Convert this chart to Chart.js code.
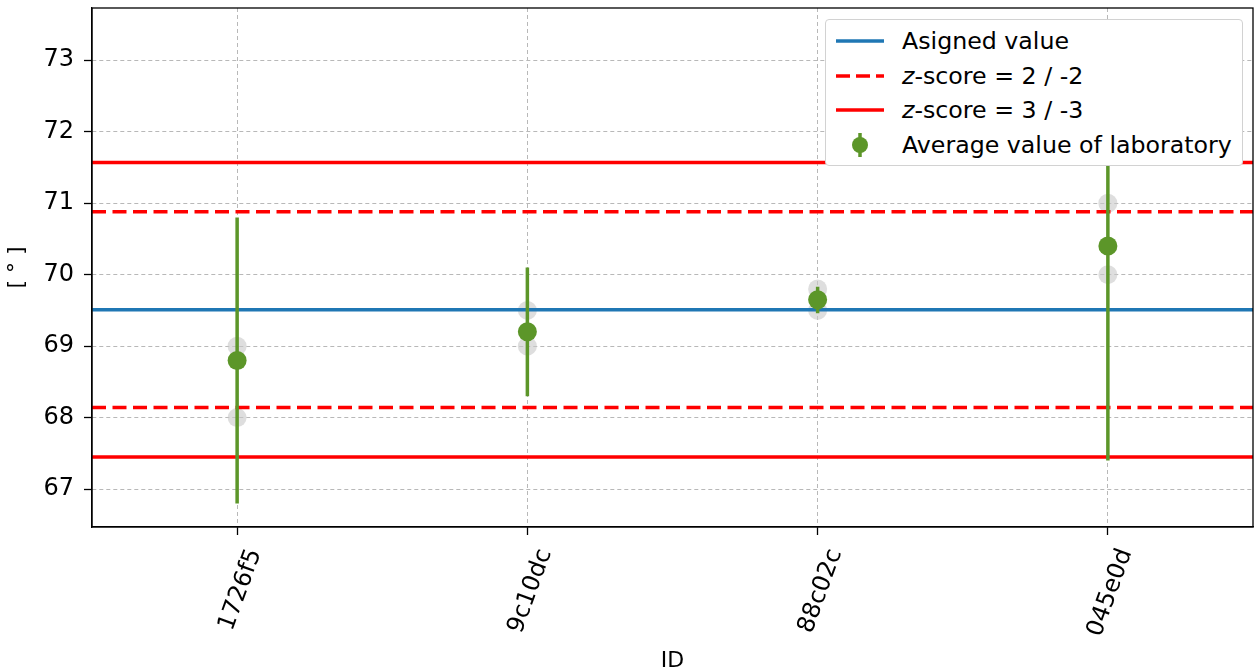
<!DOCTYPE html>
<html>
<head>
<meta charset="utf-8">
<script src="https://cdn.jsdelivr.net/npm/chart.js@4.4.0/dist/chart.umd.min.js"></script>
<style>
  html, body { margin: 0; padding: 0; background: #fff; }
  #wrap { position: relative; width: 1255px; height: 672px; font-family: "DejaVu Sans", sans-serif; }
  #legend { position: absolute; left: 825px; top: 19px; width: 418px; height: 147px; box-sizing: border-box;
            border: 1px solid #d2d2d2; border-radius: 4px; background: #fff; }
  .row { position: absolute; left: 0; width: 100%; height: 30px; font-size: 23.7px; color: #000; }
  .row svg { position: absolute; left: 9px; top: 0; }
  .row span { position: absolute; left: 76px; top: 0px; line-height: 30px; white-space: nowrap; }
</style>
</head>
<body>
<div id="wrap">
  <canvas id="chart" width="1255" height="672"></canvas>
  <div id="legend">
    <div class="row" style="top:6px">
      <svg width="50" height="30"><line x1="1" y1="15" x2="49" y2="15" stroke="#1f77b4" stroke-width="3.5"/></svg>
      <span>Asigned value</span>
    </div>
    <div class="row" style="top:41px">
      <svg width="50" height="30"><line x1="1" y1="15" x2="49" y2="15" stroke="#ff0000" stroke-width="3.5" stroke-dasharray="14,6"/></svg>
      <span><i>z</i>-score = 2 / -2</span>
    </div>
    <div class="row" style="top:75px">
      <svg width="50" height="30"><line x1="1" y1="15" x2="49" y2="15" stroke="#ff0000" stroke-width="3.5"/></svg>
      <span><i>z</i>-score = 3 / -3</span>
    </div>
    <div class="row" style="top:110px">
      <svg width="50" height="30"><line x1="25" y1="3" x2="25" y2="27" stroke="#5c9629" stroke-width="3.5"/><circle cx="25" cy="15" r="8" fill="#5c9629"/></svg>
      <span>Average value of laboratory</span>
    </div>
  </div>
</div>
<script>
// laboratories
const ids = ['1726f5', '9c10dc', '88c02c', '045e0d'];
// lab averages and error bar ends
const meanValues = [68.8, 69.2, 69.65, 70.4];
const errLow = [66.8, 68.3, 69.46, 67.4];
const errHigh = [70.8, 70.1, 69.83, 73.4];
// single measurements (grey dots)
const repA = [69.0, 69.5, 69.8, 71.0];
const repB = [68.0, 69.0, 69.5, 70.0];
// reference lines
const assignedValue = 69.51;
const z2Limits = [70.88, 68.14];
const z3Limits = [71.57, 67.45];
const yTicks = [67, 68, 69, 70, 71, 72, 73];
const yMin = 66.47, yMax = 73.73;

const green = '#5c9629';

function hline(y) {
    return [{x: -0.5, y: y}, {x: 3.5, y: y}];
}

function lineSet(y, color, dash, order) {
    return {
        data: hline(y), showLine: true, borderColor: color, borderWidth: 3.5,
        borderDash: dash, borderCapStyle: 'butt', pointRadius: 0, order: order
    };
}

const greyPoints = [];
const errPoints = [];
ids.forEach(function (id, i) {
    greyPoints.push({x: i, y: repA[i]});
    greyPoints.push({x: i, y: repB[i]});
    errPoints.push({x: i, y: errLow[i]});
    errPoints.push({x: i, y: errHigh[i]});
    errPoints.push({x: i, y: null});
});

const framePlugin = {
    id: 'frame',
    afterDraw: function (chart) {
        const a = chart.chartArea;
        const ctx = chart.ctx;
        ctx.save();
        ctx.strokeStyle = '#000';
        ctx.lineWidth = 1.3;
        ctx.strokeRect(a.left, a.top, a.right - a.left, a.bottom - a.top);
        ctx.restore();
    }
};

Chart.defaults.font.family = '"DejaVu Sans", sans-serif';
Chart.defaults.color = '#000';

new Chart(document.getElementById('chart'), {
    type: 'scatter',
    data: {
        datasets: [
            {data: greyPoints, pointRadius: 9.5, backgroundColor: 'rgba(200,200,200,0.6)', borderWidth: 0, order: 7},
            lineSet(assignedValue, '#1f77b4', [], 6),
            lineSet(z2Limits[0], '#ff0000', [14, 6.5], 5),
            lineSet(z2Limits[1], '#ff0000', [14, 6.5], 5),
            lineSet(z3Limits[0], '#ff0000', [], 4),
            lineSet(z3Limits[1], '#ff0000', [], 4),
            {data: errPoints, showLine: true, spanGaps: false, borderColor: green, borderWidth: 3.5,
             borderCapStyle: 'butt', pointRadius: 0, order: 2},
            {data: meanValues.map(function (v, i) { return {x: i, y: v}; }),
             pointRadius: 9.5, backgroundColor: green, borderWidth: 0, order: 1}
        ]
    },
    options: {
        responsive: false,
        animation: false,
        layout: {autoPadding: false, padding: {top: 8, right: 2, left: 0, bottom: 0}},
        plugins: {legend: {display: false}, tooltip: {enabled: false}},
        scales: {
            x: {
                type: 'linear', min: -0.5, max: 3.5,
                afterBuildTicks: function (scale) {
                    scale.ticks = ids.map(function (id, i) { return {value: i}; });
                },
                afterFit: function (scale) {
                    scale.height = 145;
                    scale.paddingLeft = 0;
                    scale.paddingRight = 0;
                },
                ticks: {
                    callback: function (v) { return ids[v]; },
                    minRotation: 70, maxRotation: 70, font: {size: 24}, padding: 10, labelOffset: 18
                },
                grid: {color: '#b8b8b8', lineWidth: 1, tickColor: '#000', tickLength: 8, tickWidth: 1.3},
                border: {color: '#000', width: 1.3, dash: [4, 3]},
                title: {display: true, text: 'ID', font: {size: 22, lineHeight: 1}, padding: {top: 0, bottom: 0}}
            },
            y: {
                min: yMin, max: yMax,
                afterBuildTicks: function (scale) {
                    scale.ticks = yTicks.map(function (v) { return {value: v}; });
                },
                afterFit: function (scale) {
                    scale.width = 92;
                    scale.paddingTop = 0;
                    scale.paddingBottom = 0;
                },
                ticks: {font: {size: 24}, padding: 10},
                grid: {color: '#b8b8b8', lineWidth: 1, tickColor: '#000', tickLength: 8, tickWidth: 1.3},
                border: {color: '#000', width: 1.3, dash: [4, 3]},
                title: {display: true, text: '[ ° ]', font: {size: 22}, padding: {top: 4, bottom: 0}}
            }
        }
    },
    plugins: [framePlugin]
});
</script>
</body>
</html>
